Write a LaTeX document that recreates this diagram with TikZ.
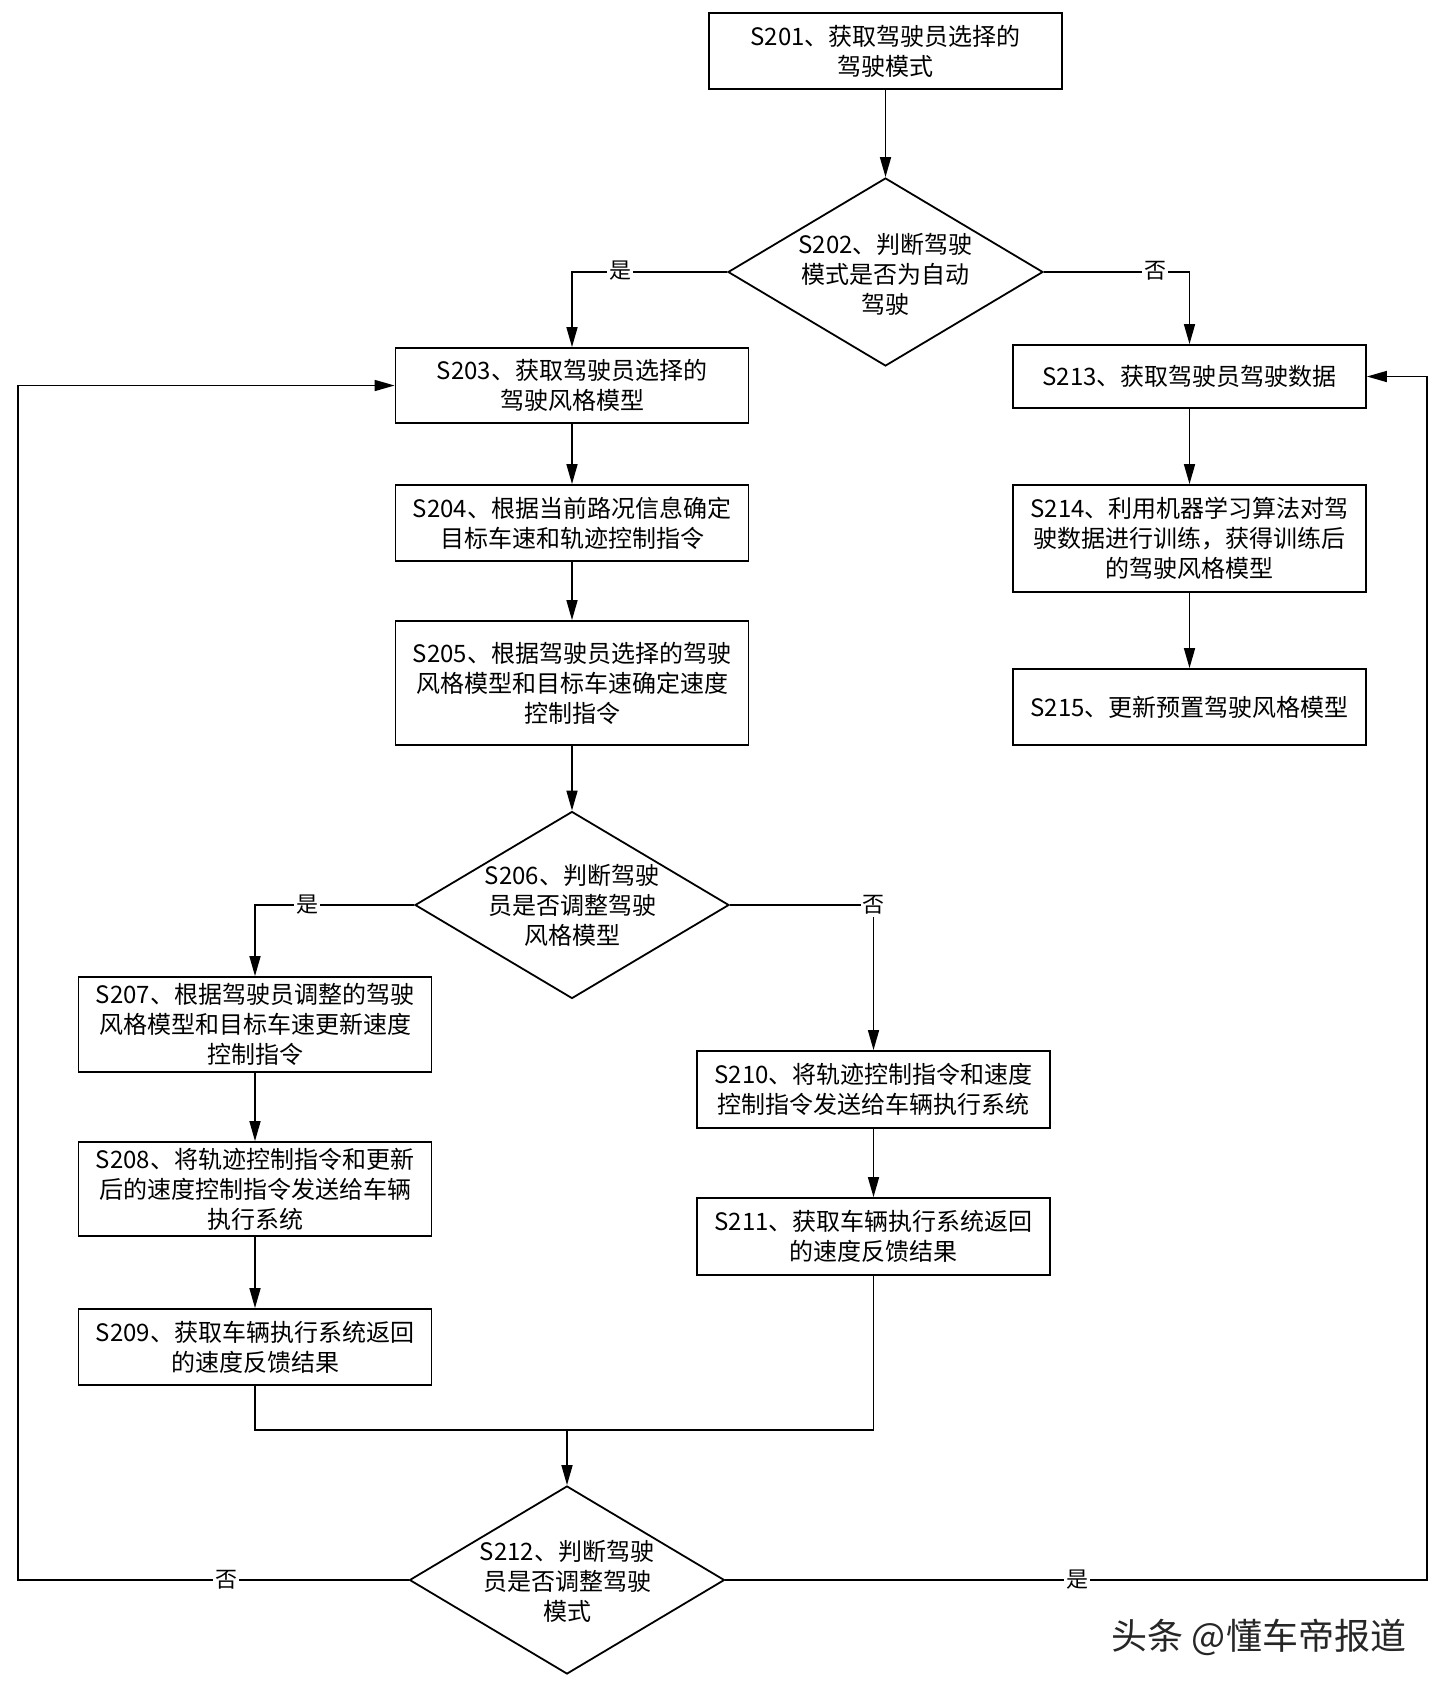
\documentclass[tikz,border=0pt]{standalone}
\usepackage{fontspec}
\setmainfont{Noto Sans CJK SC}
\usetikzlibrary{shapes.geometric,arrows.meta}
\begin{document}
\begin{tikzpicture}[x=1pt,y=-1pt,
  box/.style={draw,line width=1.8pt,minimum width=353pt,inner sep=0pt,align=center,font=\fontsize{24}{30}\selectfont},
  dia/.style={draw,diamond,line width=1.8pt,inner sep=0pt,minimum width=315pt,minimum height=188pt},
  dtext/.style={align=center,inner sep=0pt,font=\fontsize{24}{30}\selectfont},
  ln/.style={line width=1.6pt},
  arr/.style={line width=1.6pt,-{Triangle[length=20pt,width=11pt]}},
  lbl/.style={fill=white,inner sep=2pt,font=\fontsize{22}{22}\selectfont}]
\fill[white] (0,0) rectangle (1440,1689);
\useasboundingbox (0,0) rectangle (1440,1689);

% boxes
\node[box,minimum height=76pt] (s201) at (885.5,51) {S201、获取驾驶员选择的\\驾驶模式};
\node[dia] (d202) at (885.5,272) {};
\node[dtext] (t202) at (885.5,274) {S202、判断驾驶\\模式是否为自动\\驾驶};

\node[box,minimum height=75pt] (s203) at (572,385.5) {S203、获取驾驶员选择的\\驾驶风格模型};
\node[box,minimum height=76pt] (s204) at (572,523) {S204、根据当前路况信息确定\\目标车速和轨迹控制指令};
\node[box,minimum height=124pt] (s205) at (572,683) {S205、根据驾驶员选择的驾驶\\风格模型和目标车速确定速度\\控制指令};
\node[dia,minimum width=314pt,minimum height=187pt] (d206) at (572,905) {};
\node[dtext] (t206) at (572,905) {S206、判断驾驶\\员是否调整驾驶\\风格模型};

\node[box,minimum height=95pt] (s207) at (255,1024.5) {S207、根据驾驶员调整的驾驶\\风格模型和目标车速更新速度\\控制指令};
\node[box,minimum height=94pt] (s208) at (255,1189) {S208、将轨迹控制指令和更新\\后的速度控制指令发送给车辆\\执行系统};
\node[box,minimum height=76pt] (s209) at (255,1347) {S209、获取车辆执行系统返回\\的速度反馈结果};

\node[box,minimum height=77pt] (s210) at (873.5,1089.5) {S210、将轨迹控制指令和速度\\控制指令发送给车辆执行系统};
\node[box,minimum height=77pt] (s211) at (873.5,1236.5) {S211、获取车辆执行系统返回\\的速度反馈结果};

\node[box,minimum height=63pt] (s213) at (1189.5,376.5) {S213、获取驾驶员驾驶数据};
\node[box,minimum height=107pt] (s214) at (1189.5,538.5) {S214、利用机器学习算法对驾\\驶数据进行训练，获得训练后\\的驾驶风格模型};
\node[box,minimum height=76pt] (s215) at (1189.5,707) {S215、更新预置驾驶风格模型};

\node[dia] (d212) at (567,1580) {};
\node[dtext] (t212) at (567,1581) {S212、判断驾驶\\员是否调整驾驶\\模式};

% helper coordinates
\coordinate (m) at (567,1430);
\coordinate (lft) at (18,1580);
\coordinate (rgt) at (1427,1580);

% connectors
\draw[arr] (s201.south) -- (d202.north);
\draw[arr] (d202.west) -| (s203.north);
\draw[arr] (d202.east) -| (s213.north);
\draw[arr] (s203) -- (s204);
\draw[arr] (s204) -- (s205);
\draw[arr] (s205.south) -- (d206.north);
\draw[arr] (d206.west) -| (s207.north);
\draw[arr] (d206.east) -| (s210.north);
\draw[arr] (s207) -- (s208);
\draw[arr] (s208) -- (s209);
\draw[arr] (s210) -- (s211);
\draw[arr] (s213) -- (s214);
\draw[arr] (s214) -- (s215);
\draw[ln] (s209.south) -- (s209.south |- m) -| (s211.south);
\draw[arr] (m) -- (d212.north);
\draw[arr] (d212.west) -- (lft) |- (s203.west);
\draw[arr] (d212.east) -- (rgt) |- (s213.east);

% branch labels
\node[lbl] (l1) at (620,271) {是};
\node[lbl] (l2) at (1155,271) {否};
\node[lbl] (l3) at (307,905) {是};
\node[lbl] (l4) at (873.5,905) {否};
\node[lbl] (l5) at (226,1580) {否};
\node[lbl] (l6) at (1077,1580) {是};

% watermark
\node[font=\fontsize{36}{36}\selectfont,text=black!85,inner sep=0pt] (wm) at (1259,1637) {头条 @懂车帝报道};
\end{tikzpicture}
\end{document}
